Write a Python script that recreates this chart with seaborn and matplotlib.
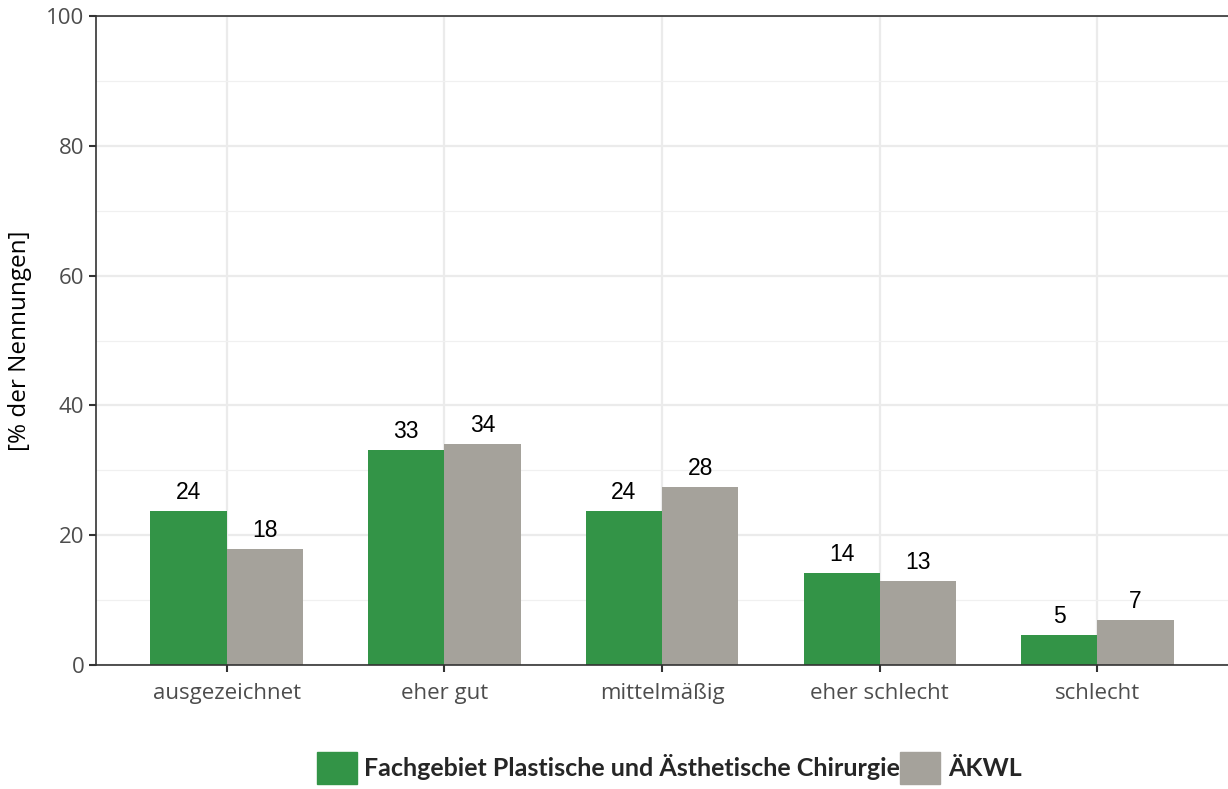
import pandas as pd
import matplotlib.pyplot as plt
import seaborn as sns
from matplotlib.ticker import MultipleLocator

categories = ['ausgezeichnet', 'eher gut', 'mittelmäßig', 'eher schlecht', 'schlecht']
groups = ['Fachgebiet Plastische und Ästhetische Chirurgie', 'ÄKWL']
fach_values = [23.7, 33.2, 23.7, 14.2, 4.7]
aekwl_values = [17.9, 34.1, 27.4, 13.0, 7.0]
fach_labels = ['24', '33', '24', '14', '5']
aekwl_labels = ['18', '34', '28', '13', '7']
colors = {groups[0]: '#339447', groups[1]: '#a5a29b'}

df = pd.DataFrame({
    'Kategorie': categories * 2,
    'Gruppe': [groups[0]] * 5 + [groups[1]] * 5,
    'Wert': fach_values + aekwl_values,
})

sns.set_style('white')
plt.rcParams['font.family'] = ['Open Sans', 'DejaVu Sans']

fig = plt.figure(figsize=(12.28, 7.89), dpi=100)
ax = fig.add_axes([0.0782, 0.157, 0.9218, 0.8227])

sns.barplot(ax=ax, data=df, x='Kategorie', y='Wert', hue='Gruppe', order=categories,
            hue_order=groups, palette=colors, width=0.7, saturation=1, legend=False,
            linewidth=0, edgecolor='none')

for cont, labs in zip(ax.containers, [fach_labels, aekwl_labels]):
    ax.bar_label(cont, labels=labs, padding=5, fontsize=16.5, family='Liberation Sans', color='black')

ax.set_ylim(0, 100)
ax.set_xlim(-0.6, 4.6)
ax.yaxis.set_major_locator(MultipleLocator(20))
ax.yaxis.set_minor_locator(MultipleLocator(10))
ax.grid(True, which='major', color='#ebebeb', linewidth=1.6)
ax.grid(True, which='minor', axis='y', color='#f0f0f0', linewidth=0.9)
ax.set_axisbelow(True)

ax.set_xlabel('')
ax.set_ylabel('[% der Nennungen]', fontsize=17.5, color='black', labelpad=10)
ax.tick_params(axis='both', which='major', labelsize=16, labelcolor='#4d4d4d',
               color='#333333', length=5, width=1.5, direction='out', bottom=True, left=True)
ax.tick_params(axis='x', which='major', pad=8)
ax.tick_params(axis='y', which='minor', length=0)

for side in ['left', 'bottom', 'top']:
    ax.spines[side].set_color('#333333')
    ax.spines[side].set_linewidth(1.2)
ax.spines['right'].set_visible(False)

handles = [plt.Rectangle((0, 0), 1, 1, color=colors[g]) for g in groups]
fig.legend(handles, groups, loc='center', bbox_to_anchor=(0.545, 0.027), ncol=2, frameon=False,
           prop={'family': 'Lato', 'weight': 'bold', 'size': 18},
           handlelength=1.6, handleheight=1.6, handletextpad=0.3, columnspacing=0.0)

fig.savefig('out.png', dpi=100)
